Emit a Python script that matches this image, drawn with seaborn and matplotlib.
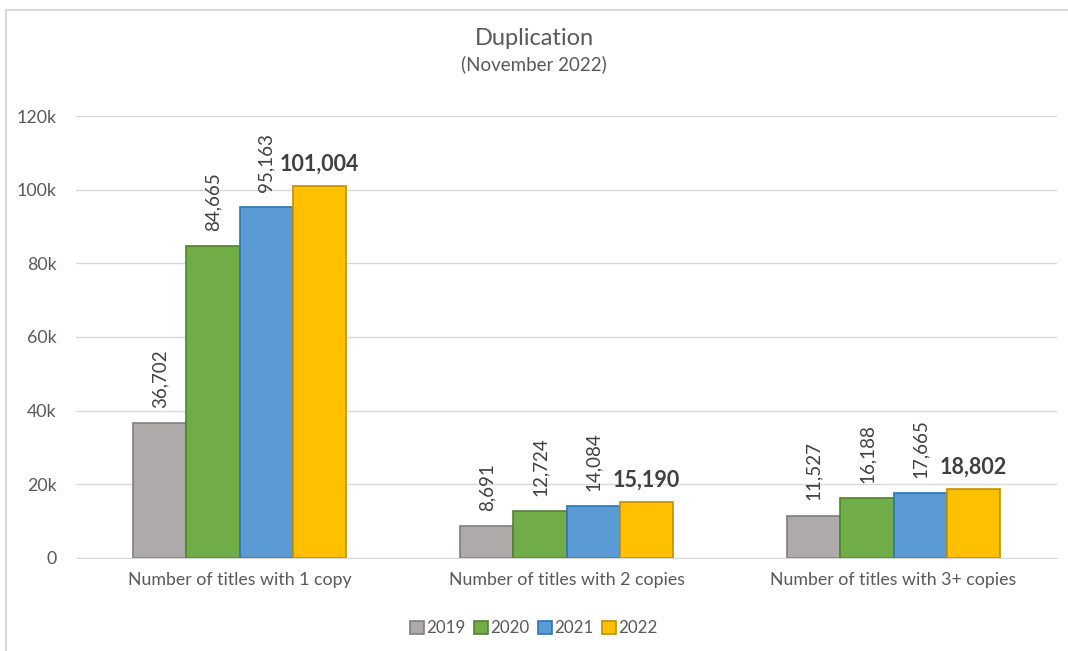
import pandas as pd
import numpy as np
import matplotlib
matplotlib.use('Agg')
import matplotlib.pyplot as plt
import seaborn as sns
from matplotlib.lines import Line2D
from matplotlib.patches import Patch

# Data
categories = ['Number of titles with 1 copy', 'Number of titles with 2 copies', 'Number of titles with 3+ copies']
years = ['2019', '2020', '2021', '2022']
v2019 = [36702, 8691, 11527]
v2020 = [84665, 12724, 16188]
v2021 = [95163, 14084, 17665]
v2022 = [101004, 15190, 18802]

colors = ['#ADAAA9', '#70AD47', '#5B9BD5', '#FFC000']
edges = ['#7F7F7F', '#538135', '#2E75B6', '#BF9000']

rows = []
for yr, vals in zip(years, [v2019, v2020, v2021, v2022]):
    for cat, v in zip(categories, vals):
        rows.append({'category': cat, 'year': yr, 'value': v})
df = pd.DataFrame(rows)

sns.set_style('white')
plt.rcParams['font.family'] = ['Lato', 'DejaVu Sans']

fig = plt.figure(figsize=(10.68, 6.51), dpi=100)
ax = fig.add_axes([0.0712, 0.1429, 0.9185, 0.6789])

sns.barplot(data=df, x='category', y='value', hue='year', palette=colors,
            width=0.65, gap=0, saturation=1, ax=ax, legend=False, errorbar=None)

# bar edges and labels
for i, cont in enumerate(ax.containers):
    for bar in cont:
        bar.set_edgecolor(edges[i])
        bar.set_linewidth(1.2)
    vals = [v2019, v2020, v2021, v2022][i]
    if i < 3:
        ax.bar_label(cont, labels=[f'{v:,}' for v in vals], rotation=90,
                     padding=11, fontsize=13.5, color='#404040')
    else:
        ax.bar_label(cont, labels=[f'{v:,}' for v in vals], padding=8,
                     fontsize=15.5, fontweight='bold', color='#404040')

ax.set_ylim(0, 120000)
ax.set_yticks(np.arange(0, 120001, 20000))
ax.set_yticklabels(['0'] + [f'{int(t/1000)}k' for t in np.arange(20000, 120001, 20000)])
ax.yaxis.grid(True, color='#D9D9D9', linewidth=1)
ax.set_axisbelow(True)
for s in ['top', 'right', 'left']:
    ax.spines[s].set_visible(False)
ax.spines['bottom'].set_color('#D9D9D9')
ax.tick_params(axis='both', length=0, labelsize=12.8, labelcolor='#595959')
ax.tick_params(axis='y', pad=14)
ax.tick_params(axis='x', pad=10)
ax.set_xlabel('')
ax.set_ylabel('')
ax.set_xlim(-0.5, 2.5)

fig.text(0.5, 0.941, 'Duplication', ha='center', va='center', fontsize=17, color='#595959')
fig.text(0.5, 0.902, '(November 2022)', ha='center', va='center', fontsize=13.5, color='#595959')

handles = [Patch(facecolor=c, edgecolor=e, linewidth=1.2) for c, e in zip(colors, edges)]
fig.legend(handles, years, loc='center', bbox_to_anchor=(0.5, 0.035), ncol=4, frameon=False,
           fontsize=12.2, handlelength=0.8, handleheight=0.8, handletextpad=0.15,
           columnspacing=0.5, labelcolor='#595959')

# chart border (top and left)
fig.add_artist(Line2D([6 / 1068, 6 / 1068], [0, 1 - 10 / 651], color='#D9D9D9', linewidth=1.5))
fig.add_artist(Line2D([6 / 1068, 1], [1 - 10 / 651, 1 - 10 / 651], color='#D9D9D9', linewidth=1.5))

fig.savefig('out.png', dpi=100)
